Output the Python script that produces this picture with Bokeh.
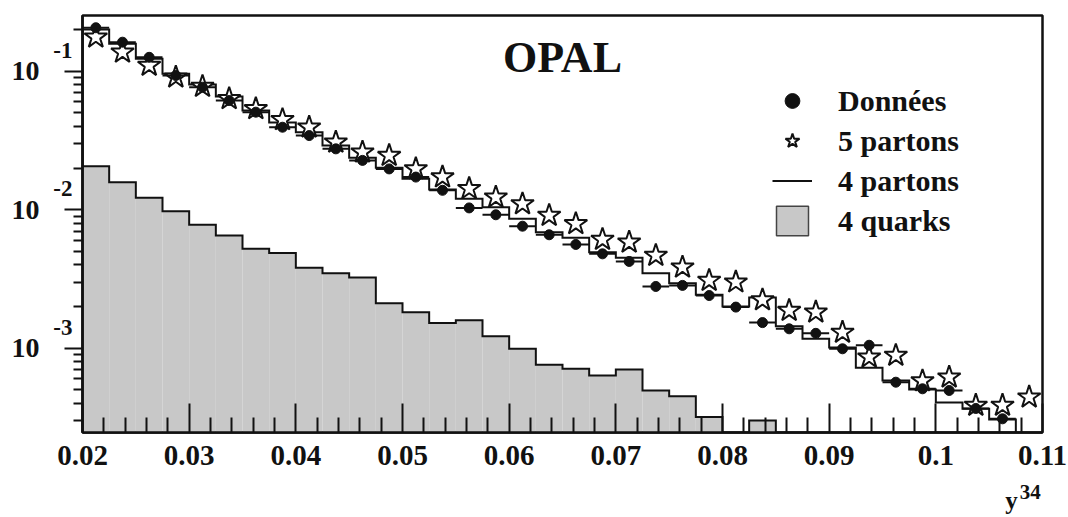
import numpy as np
from bokeh.plotting import figure
from bokeh.models import (Range1d, FixedTicker, Label, Legend, LegendItem,
                          LogAxis, LinearAxis)
from bokeh.embed import file_html
from bokeh.resources import INLINE

# y34 distribution: 36 bins of width 0.0025 from 0.02 to 0.11
bin_lo = 0.02
bin_width = 0.0025
n_bins = 36

# Data (OPAL)
donnees = [0.206, 0.162, 0.126, 0.0931, 0.0766, 0.0614, 0.0506, 0.0394, 0.0343,
           0.0275, 0.0227, 0.0197, 0.0172, 0.0138, 0.0103, 0.00919, 0.00760,
           0.00659, 0.00561, 0.00480, 0.00423, 0.00279, 0.00284, 0.00240,
           0.00198, 0.00153, 0.00138, 0.00128, 0.000990, 0.00105, 0.000568,
           0.000509, 0.000495, 0.000367, 0.000309, float("nan")]

# 5-parton prediction
partons5 = [0.176, 0.137, 0.110, 0.0905, 0.0775, 0.0632, 0.0535, 0.0446, 0.0394,
            0.0307, 0.0260, 0.0246, 0.0197, 0.0172, 0.0142, 0.0123, 0.0110,
            0.00908, 0.00791, 0.00609, 0.00582, 0.00467, 0.00384, 0.00308,
            0.00300, 0.00223, 0.00187, 0.00182, 0.00130, 0.000861, 0.000886,
            0.000580, 0.000617, 0.000386, 0.000386, 0.000443]

# 4-parton prediction
partons4 = [0.200, 0.158, 0.123, 0.0958, 0.0802, 0.0657, 0.0520, 0.0426, 0.0363,
            0.0291, 0.0237, 0.0201, 0.0167, 0.0140, 0.0120, 0.0104, 0.00860,
            0.00688, 0.00627, 0.00493, 0.00449, 0.00348, 0.00294, 0.00243,
            0.00200, 0.00232, 0.00144, 0.00117, 0.00101, 0.000722, 0.000585,
            0.000503, 0.000405, 0.000365, 0.000306, 0.0]

# 4-quark contribution
quarks4 = [0.0206, 0.0158, 0.0122, 0.00976, 0.00778, 0.00651, 0.00522, 0.00487,
           0.00381, 0.00348, 0.00324, 0.00211, 0.00182, 0.00152, 0.00159,
           0.00122, 0.00099, 0.00076, 0.00071, 0.000635, 0.000702, 0.000495,
           0.000450, 0.000318, 0.0, 0.000301, 0.0, 0.0, 0.0, 0.0, 0.0, 0.0,
           0.0, 0.0, 0.0, 0.0]

legend_labels = ["Données", "5 partons", "4 partons", "4 quarks"]
x_tick_labels = ["0.02", "0.03", "0.04", "0.05", "0.06", "0.07", "0.08",
                 "0.09", "0.1", "0.11"]
y_tick_exponents = [-1, -2, -3]
x_title, x_title_sup = "y", "34"

FONT = "Liberation Serif"
INK = "#111111"
GREY = "#c8c8c8"
FLOOR = 1e-7
X0, X1 = 0.02, 0.11
Y0, Y1 = 2.461e-4, 0.2525
DECADE_PX = 138.5  # pixel height of one decade on the y axis

edges = bin_lo + bin_width * np.arange(n_bins + 1)
left, right = edges[:-1], edges[1:]
centers = left + bin_width / 2


def step_path(vals):
    v = np.asarray(vals, dtype=float)
    v = np.where(v > 0, v, FLOOR)
    xs = np.repeat(edges, 2)
    ys = np.concatenate([[FLOOR], np.repeat(v, 2), [FLOOR]])
    return xs, ys


def text_axis(axis, size, standoff):
    """Axis used only to carry a row/column of bold serif labels."""
    axis.major_tick_in = 0
    axis.major_tick_out = 0
    axis.minor_tick_in = 0
    axis.minor_tick_out = 0
    axis.axis_line_color = None
    axis.major_tick_line_color = None
    axis.minor_tick_line_color = None
    axis.major_label_standoff = standoff
    axis.major_label_text_font = FONT
    axis.major_label_text_font_style = "bold"
    axis.major_label_text_font_size = size
    axis.major_label_text_color = INK
    return axis


p = figure(width=1068, height=517, y_axis_type="log",
           x_range=Range1d(X0, X1), y_range=Range1d(Y0, Y1),
           output_backend="svg", toolbar_location=None,
           min_border_left=82, min_border_right=26,
           min_border_top=15, min_border_bottom=85)
p.background_fill_color = "white"
p.border_fill_color = "white"
p.outline_line_color = INK
p.outline_line_width = 2.5
p.xgrid.visible = False
p.ygrid.visible = False

# 4 quarks: filled histogram with its outline
q = np.asarray(quarks4)
mask = q > 0
p.quad(left=left[mask], right=right[mask], top=q[mask], bottom=FLOOR,
       fill_color=GREY, line_color=None)
qx, qy = step_path(quarks4)
p.line(qx, qy, line_color=INK, line_width=2, line_join="miter")

# 4 partons: open histogram
sx, sy = step_path(partons4)
r_step = p.line(sx, sy, line_color=INK, line_width=2, line_join="miter")

# 5 partons: open stars
r_star = p.scatter(centers, partons5, marker="star", size=24,
                   fill_color="white", line_color=INK, line_width=2)

# Data: filled circles with bin-width bars
d = np.asarray(donnees, dtype=float)
p.segment(x0=left, x1=right, y0=d, y1=d, line_color=INK, line_width=2)
r_data = p.scatter(centers, d, marker="circle", size=10,
                   fill_color=INK, line_color=INK)

# Legend key for the filled histogram (drawn in the legend only)
r_qkey = p.quad(left=left[:1], right=right[:1], top=q[:1], bottom=FLOOR,
                fill_color=GREY, line_color="#444444", line_width=1.5,
                visible=False)

legend = Legend(items=[LegendItem(label=legend_labels[0], renderers=[r_data]),
                       LegendItem(label=legend_labels[1], renderers=[r_star]),
                       LegendItem(label=legend_labels[2], renderers=[r_step]),
                       LegendItem(label=legend_labels[3], renderers=[r_qkey])],
                location=(690, 193), glyph_width=40, glyph_height=37,
                spacing=3, label_standoff=26, padding=0, margin=0,
                border_line_alpha=0, background_fill_alpha=0,
                label_text_font=FONT, label_text_font_style="bold",
                label_text_font_size="30px", label_text_color=INK)
p.add_layout(legend)

# x axis
x_ticks = [float(s) for s in x_tick_labels]
x_minor = [round(X0 + 0.002 * k, 3) for k in range(46)]
x_minor = [t for t in x_minor if all(abs(t - m) > 1e-9 for m in x_ticks)]
p.xaxis.ticker = FixedTicker(ticks=x_ticks, minor_ticks=x_minor)
p.xaxis.major_label_overrides = dict(zip(x_ticks, x_tick_labels))
p.xaxis.major_tick_in = 29
p.xaxis.major_tick_out = 0
p.xaxis.minor_tick_in = 15
p.xaxis.minor_tick_out = 0
p.xaxis.major_tick_line_width = 2
p.xaxis.minor_tick_line_width = 2
p.xaxis.major_tick_line_color = INK
p.xaxis.minor_tick_line_color = INK
p.xaxis.axis_line_width = 2.5
p.xaxis.axis_line_color = INK
p.xaxis.major_label_text_font = FONT
p.xaxis.major_label_text_font_style = "bold"
p.xaxis.major_label_text_font_size = "29px"
p.xaxis.major_label_text_color = INK
p.xaxis.major_label_standoff = 13

# x axis title "y" with superscript "34", set at the right end
x_sup_pos = X1 - 0.00115
x_title_pos = X1 - 0.0029
sup_axis = text_axis(LinearAxis(), "21px", 17)
sup_axis.ticker = FixedTicker(ticks=[x_sup_pos], minor_ticks=[])
sup_axis.major_label_overrides = {x_sup_pos: x_title_sup}
p.add_layout(sup_axis, "below")
title_axis = text_axis(LinearAxis(), "25px", -15)
title_axis.ticker = FixedTicker(ticks=[x_title_pos], minor_ticks=[])
title_axis.major_label_overrides = {x_title_pos: x_title}
p.add_layout(title_axis, "below")

# y axis (log): ticks only
y_ticks = [10.0 ** e for e in y_tick_exponents]
y_minor = [m * 10.0 ** e for e in range(-4, 0) for m in range(2, 10)]
p.yaxis.ticker = FixedTicker(ticks=y_ticks, minor_ticks=y_minor)
p.yaxis.major_label_overrides = {t: "" for t in y_ticks}
p.yaxis.major_label_standoff = 0
p.yaxis.major_tick_in = 0
p.yaxis.major_tick_out = 18
p.yaxis.minor_tick_in = 0
p.yaxis.minor_tick_out = 9
p.yaxis.major_tick_line_width = 2
p.yaxis.minor_tick_line_width = 2
p.yaxis.major_tick_line_color = INK
p.yaxis.minor_tick_line_color = INK
p.yaxis.axis_line_width = 2.5
p.yaxis.axis_line_color = INK

# y tick labels: exponent raised above each decade, then the base "10"
expo_shift = 10.0 ** (21 / DECADE_PX)
expo_ticks = [t * expo_shift for t in y_ticks]
expo_axis = text_axis(LogAxis(), "23px", -8)
expo_axis.ticker = FixedTicker(ticks=expo_ticks, minor_ticks=[])
expo_axis.major_label_overrides = {t: str(e) for t, e in zip(expo_ticks, y_tick_exponents)}
p.add_layout(expo_axis, "left")
base_axis = text_axis(LogAxis(), "28px", 11)
base_axis.ticker = FixedTicker(ticks=y_ticks, minor_ticks=[])
base_axis.major_label_overrides = {t: "10" for t in y_ticks}
p.add_layout(base_axis, "left")

# Experiment name
p.add_layout(Label(x=480, y=375, x_units="screen", y_units="screen", text="OPAL",
                   text_align="center", text_baseline="middle",
                   text_font=FONT, text_font_style="bold",
                   text_font_size="44px", text_color=INK))

open("out.html", "w").write(file_html(p, INLINE))
